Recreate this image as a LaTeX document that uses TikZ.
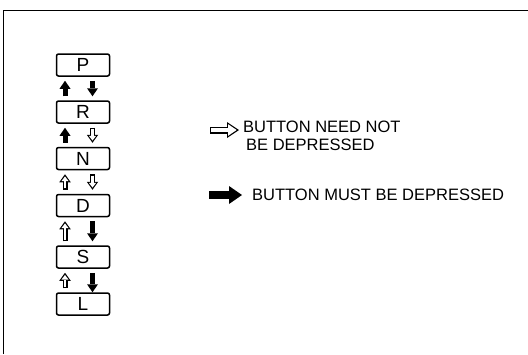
\documentclass[tikz,border=0pt]{standalone}
\usepackage{fontspec}
\setmainfont{Liberation Sans}
\usetikzlibrary{arrows.meta}
\tikzset{
  btn/.style={draw, line width=1.5pt, rounded corners=2pt, minimum width=53pt, minimum height=22pt, inner sep=0pt, font=\fontsize{19}{19}\selectfont},
  mustarr/.style={line width=5pt, -{Triangle[width=11pt,length=8pt,line width=0pt]}},
  needarr/.style={line width=5pt, -{Triangle[width=11.5pt,length=8pt,line width=0pt]},
    postaction={draw=white, line width=2.4pt, shorten <=1.3pt, shorten >=2.2pt, -{Triangle[width=7pt,length=4.6pt,line width=0pt]}}},
  bigmust/.style={line width=8pt, -{Triangle[width=18pt,length=13pt,line width=0pt]}},
  bigneed/.style={line width=7pt, -{Triangle[width=16pt,length=12pt,line width=0pt]},
    postaction={draw=white, line width=4.4pt, shorten <=1.3pt, shorten >=2.4pt, -{Triangle[width=11.5pt,length=8.4pt,line width=0pt]}}},
  legend/.style={anchor=west, align=left, inner sep=0pt, font=\fontsize{16.5}{18.5}\selectfont},
}
\begin{document}
\begin{tikzpicture}[x=1pt,y=-1pt]
\path[use as bounding box] (0,0) rectangle (528,354);
\draw[line width=1pt] (3,354) -- (3,10) -- (528,10);
% selector buttons
\node[btn] (P) at (83,65) {P};
\node[btn] (R) at (83,112) {R};
\node[btn] (N) at (83,158.5) {N};
\node[btn] (D) at (83,205.5) {D};
\node[btn] (S) at (83,257) {S};
\node[btn] (L) at (83,304) {L};
% moves between positions
\draw[mustarr] ([xshift=-18pt,yshift=4pt]R.north) -- ([xshift=-18pt,yshift=-4pt]P.south);
\draw[mustarr] ([xshift=9.5pt,yshift=-4pt]P.south) -- ([xshift=9.5pt,yshift=4pt]R.north);
\draw[mustarr] ([xshift=-18pt,yshift=4pt]N.north) -- ([xshift=-18pt,yshift=-4pt]R.south);
\draw[needarr] ([xshift=9.5pt,yshift=-4pt]R.south) -- ([xshift=9.5pt,yshift=4pt]N.north);
\draw[needarr] ([xshift=-18pt,yshift=4pt]D.north) -- ([xshift=-18pt,yshift=-4pt]N.south);
\draw[needarr] ([xshift=9.5pt,yshift=-4pt]N.south) -- ([xshift=9.5pt,yshift=4pt]D.north);
\draw[needarr] ([xshift=-18pt,yshift=4pt]S.north) -- ([xshift=-18pt,yshift=-4pt]D.south);
\draw[mustarr] ([xshift=9.5pt,yshift=-4pt]D.south) -- ([xshift=9.5pt,yshift=4pt]S.north);
\draw[needarr] ([xshift=-18pt,yshift=4pt]L.north) -- ([xshift=-18pt,yshift=-4pt]S.south);
\draw[mustarr] ([xshift=9.5pt,yshift=-4pt]S.south) -- ([xshift=9.5pt,yshift=0pt]L.north);
% legend
\draw[bigneed] (210,130) -- (239,130);
\node[legend] (need) at (243,136) {BUTTON NEED NOT\\\hspace*{3pt}BE DEPRESSED};
\draw[bigmust] (209,195) -- (242,195);
\node[legend] (must) at (252,195) {BUTTON MUST BE DEPRESSED};
\end{tikzpicture}
\end{document}
